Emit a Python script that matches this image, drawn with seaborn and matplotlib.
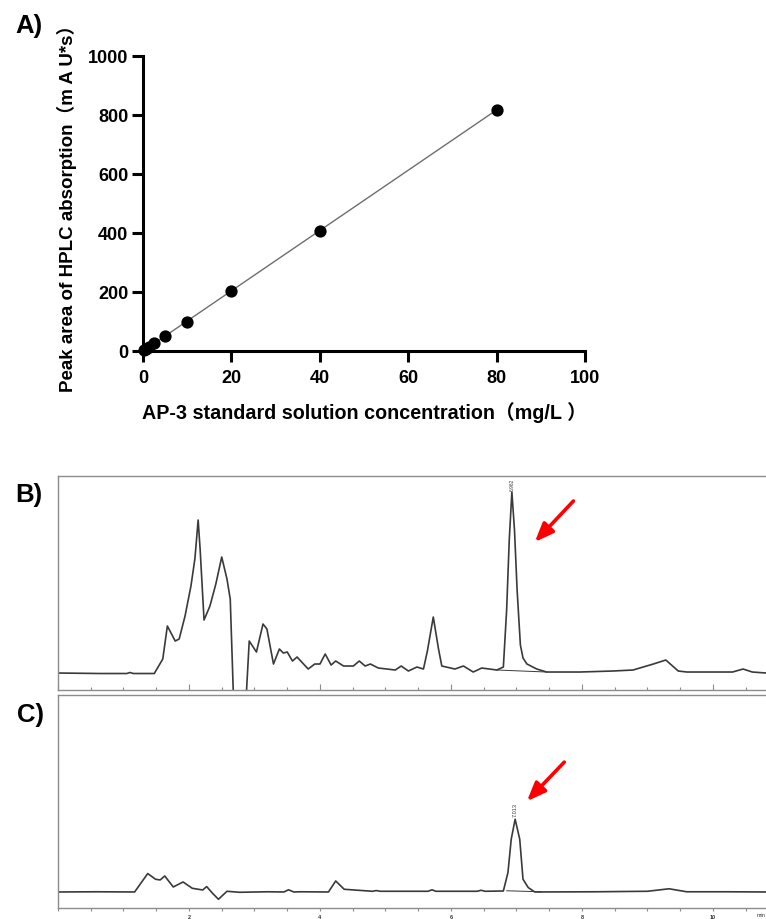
import seaborn as sns
import matplotlib.pyplot as plt
from matplotlib.ticker import MultipleLocator

# A) standard curve
conc = [0.3125, 0.625, 1.25, 2.5, 5, 10, 20, 40, 80]
area = [3, 6, 12, 26, 49, 98, 201, 407, 817]
a_xticks = [0, 20, 40, 60, 80, 100]
a_yticks = [0, 200, 400, 600, 800, 1000]

# B) chromatogram of standard (time in min, signal in arbitrary units)
b_time = [0.00, 0.64, 1.05, 1.10, 1.15, 1.47, 1.60, 1.67, 1.79, 1.85, 1.94, 2.03, 2.09, 2.14,
          2.17, 2.23, 2.32, 2.41, 2.50, 2.58, 2.63, 2.68, 2.685, 2.875, 2.88, 2.92, 3.03, 3.13,
          3.19, 3.29, 3.38, 3.44, 3.50, 3.58, 3.65, 3.82, 3.92, 4.00, 4.08, 4.17, 4.24, 4.36,
          4.51, 4.60, 4.69, 4.77, 4.89, 5.15, 5.24, 5.35, 5.48, 5.58, 5.64, 5.73, 5.81, 5.86,
          6.06, 6.19, 6.34, 6.47, 6.70, 6.80, 6.85, 6.89, 6.93, 6.97, 7.01, 7.06, 7.10, 7.16,
          7.31, 7.46, 7.97, 8.47, 8.78, 9.09, 9.28, 9.47, 9.60, 10.30, 10.46, 10.60, 10.81]
b_signal = [17, 16.5, 16.5, 17.5, 16.5, 16.5, 31, 64, 49, 51, 74, 104, 131, 170,
            141, 70, 84, 106, 133, 111, 91, -9, -40, -40, 1, 49, 38, 66,
            61, 26, 41, 37, 38, 29, 33, 21, 26, 26, 36, 25, 29, 24,
            24, 29, 24, 26, 22, 20, 24, 19, 23, 21, 39, 73, 41, 24,
            21, 24, 18, 22, 20, 23, 80, 150, 198, 160, 100, 45, 32, 26,
            21, 18, 18, 19, 20, 26, 30, 19, 18, 18, 21, 18, 17]
b_base_t = [6.70, 7.46]
b_base_s = [20, 18]
b_peak_label = "6.962"

# C) chromatogram of sample
c_time = [0.00, 0.60, 1.17, 1.37, 1.49, 1.56, 1.63, 1.76, 1.91, 2.05, 2.21, 2.27, 2.36, 2.45,
          2.58, 2.77, 3.20, 3.45, 3.52, 3.60, 3.70, 4.13, 4.24, 4.37, 4.80, 4.86, 4.92, 5.65,
          5.71, 5.77, 6.40, 6.46, 6.52, 6.80, 6.87, 6.92, 6.98, 7.05, 7.10, 7.18, 7.28, 8.20,
          9.00, 9.33, 9.60, 10.20, 10.81]
c_signal = [16.3, 16.5, 16.3, 34.7, 29, 28.3, 32.3, 21.3, 26.3, 20, 18.3, 21.7, 15, 9,
            17, 16, 16.5, 16.3, 18.5, 16.3, 16.5, 16.3, 27.3, 19, 17, 17.7, 17, 17,
            18.5, 17, 17, 18, 17, 17.3, 35.7, 69, 89, 69, 29, 20.7, 16.3, 16.5,
            17, 19.5, 16.5, 16.5, 16.3]
c_base_t = [6.85, 7.38]
c_base_s = [17.5, 16.5]
c_peak_label = "7.013"
c_xticks = [2, 4, 6, 8, 10]

sns.set_theme(style="ticks")
plt.rcParams["font.family"] = ["Liberation Sans", "Noto Sans CJK SC", "DejaVu Sans"]

fig = plt.figure(figsize=(7.66, 9.2), dpi=100)

# ---- panel A
axA = fig.add_axes([0.1867, 0.6177, 0.5770, 0.3207])
sns.regplot(x=conc, y=area, ax=axA, ci=None, color="black",
            scatter_kws=dict(s=78, zorder=4, clip_on=False, linewidths=0, alpha=1),
            line_kws=dict(color="#6e6e6e", lw=1.0, zorder=3))
axA.set_xlim(0, 100)
axA.set_ylim(0, 1000)
axA.set_xticks(a_xticks)
axA.set_yticks(a_yticks)
axA.set_xticklabels([str(v) for v in a_xticks], fontweight="bold")
axA.set_yticklabels([str(v) for v in a_yticks], fontweight="bold")
for s in ["top", "right"]:
    axA.spines[s].set_visible(False)
for s in ["left", "bottom"]:
    axA.spines[s].set_linewidth(2.2)
    axA.spines[s].set_color("black")
axA.tick_params(axis="both", length=8, width=2.2, labelsize=13, color="black",
                labelcolor="black", direction="out")
axA.tick_params(axis="y", pad=2.5)
axA.tick_params(axis="x", pad=5)
axA.set_xlabel("AP-3 standard solution concentration（mg/L ）", fontsize=14.2,
               fontweight="bold", color="black", labelpad=11)
axA.set_ylabel("Peak area of HPLC absorption（m A U*s）", fontsize=13.5,
               fontweight="bold", color="black", labelpad=8)

frame = "#8c8c8c"
trace = "#3a3a3a"

# ---- panel B
axB = fig.add_axes([0.0757, 0.2489, 0.9243, 0.2326])
sns.lineplot(x=b_time, y=b_signal, ax=axB, color=trace, lw=1.2, estimator=None, sort=False)
axB.plot(b_base_t, b_base_s, color=trace, lw=0.7)
axB.set_xlim(0, 10.81)
axB.set_ylim(0, 214)
axB.set_yticks([])
axB.xaxis.set_major_locator(MultipleLocator(2))
axB.xaxis.set_minor_locator(MultipleLocator(0.5))
axB.tick_params(axis="x", which="both", direction="in", color=frame, width=0.8,
                labelbottom=False)
axB.tick_params(axis="x", which="major", length=4)
axB.tick_params(axis="x", which="minor", length=2.5)
axB.spines["right"].set_visible(False)
for s in ["top", "left", "bottom"]:
    axB.spines[s].set_color(frame)
    axB.spines[s].set_linewidth(1.0)
axB.text(6.93, 200, b_peak_label, rotation=90, fontsize=3.5, ha="center", va="bottom",
         color=trace)
axB.annotate("", xy=(7.28, 148), xytext=(7.87, 189),
             arrowprops=dict(arrowstyle="-|>,head_length=0.8,head_width=0.32",
                             color="red", lw=2.6, mutation_scale=14,
                             shrinkA=0, shrinkB=0))

# ---- panel C
axC = fig.add_axes([0.0757, 0.01163, 0.9243, 0.2318])
sns.lineplot(x=c_time, y=c_signal, ax=axC, color=trace, lw=1.2, estimator=None, sort=False)
axC.plot(c_base_t, c_base_s, color=trace, lw=0.7)
axC.set_xlim(0, 10.81)
axC.set_ylim(0, 213)
axC.set_yticks([])
axC.set_xticks(c_xticks)
axC.set_xticklabels([str(v) for v in c_xticks], fontweight="bold")
axC.xaxis.set_minor_locator(MultipleLocator(0.5))
axC.tick_params(axis="x", which="both", direction="out", color=frame, width=0.8,
                length=2.5, labelsize=4, pad=1.5, labelcolor="#333333")
axC.spines["right"].set_visible(False)
for s in ["top", "left", "bottom"]:
    axC.spines[s].set_color(frame)
    axC.spines[s].set_linewidth(1.0)
axC.text(6.98, 92, c_peak_label, rotation=90, fontsize=4, ha="center", va="bottom",
         color=trace)
axC.text(0.999, -0.018, "min", transform=axC.transAxes, fontsize=4,
         ha="right", va="top", color="#333333", clip_on=False)
axC.annotate("", xy=(7.16, 107), xytext=(7.73, 146),
             arrowprops=dict(arrowstyle="-|>,head_length=0.8,head_width=0.32",
                             color="red", lw=2.6, mutation_scale=14,
                             shrinkA=0, shrinkB=0))

# panel letters
fig.text(15 / 766, 1 - 33 / 920, "A)", fontsize=18.5, fontweight="bold", va="baseline",
         color="black")
fig.text(15 / 766, 1 - 502 / 920, "B)", fontsize=18.5, fontweight="bold", va="baseline",
         color="black")
fig.text(17 / 766, 1 - 722 / 920, "C)", fontsize=18.5, fontweight="bold", va="baseline",
         color="black")

fig.savefig("out.png", dpi=100)
